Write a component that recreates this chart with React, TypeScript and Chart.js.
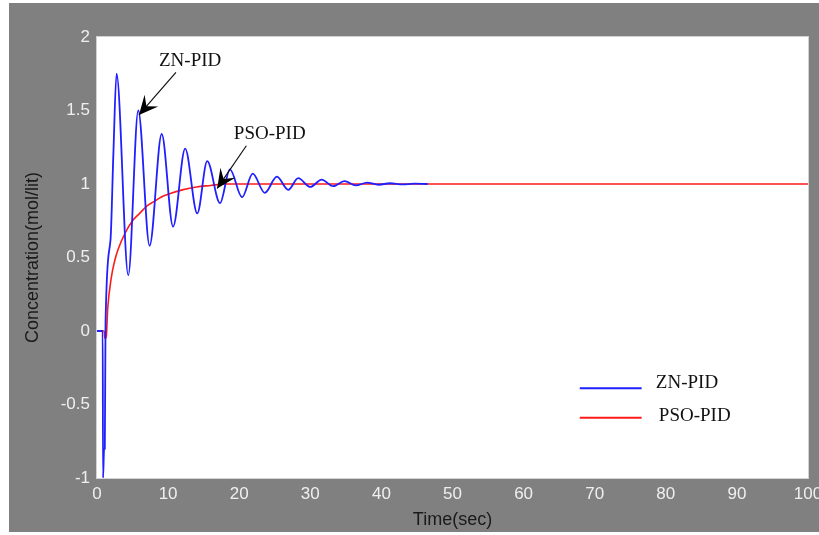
import React, { useEffect, useRef } from "react";
import { Chart, registerables } from "chart.js";

Chart.register(...registerables);

// ---- Data ----
const ZN_T = [0, 0.8, 0.85, 1.0, 1.1, 1.2, 1.9, 2.3, 2.75, 4.4, 5.8, 7.4, 9.1, 10.7, 12.4, 14.1, 15.5, 17.3, 18.7, 20.4, 21.9, 23.6, 25.3, 26.9, 28.3, 30.0, 31.6, 33.2, 34.8, 36.4, 38.0, 39.6, 41.2, 43.0, 44.6, 46.5];
const ZN_V = [0, 0, -1.0, -0.8, -0.8, 0.05, 0.62, 1.2, 1.75, 0.38, 1.5, 0.58, 1.34, 0.71, 1.24, 0.8, 1.155, 0.87, 1.1, 0.91, 1.07, 0.94, 1.05, 0.96, 1.04, 0.98, 1.03, 0.985, 1.02, 0.99, 1.01, 0.995, 1.005, 0.997, 1.002, 1.0];

const PSO_T = [0, 1.0, 1.1, 1.3, 1.5, 2.0, 2.5, 3.0, 4.0, 5.0, 6.0, 7.0, 8.0, 9.0, 10.0, 12.0, 14.0, 16.0, 18.0, 25.0, 100.0];
const PSO_V = [0, 0, -0.05, -0.04, 0.15, 0.36, 0.48, 0.56, 0.67, 0.75, 0.8, 0.85, 0.88, 0.91, 0.93, 0.96, 0.98, 0.99, 1.0, 1.0, 1.0];

const SERIES_LABELS = ["ZN-PID", "PSO-PID"];
const SERIES_COLORS = ["#1f1fff", "#ff1a1a"];

const X_TICKS = [0, 10, 20, 30, 40, 50, 60, 70, 80, 90, 100];
const Y_TICKS = [-1, -0.5, 0, 0.5, 1, 1.5, 2];
const X_TITLE = "Time(sec)";
const Y_TITLE = "Concentration(mol/lit)";

// annotations in data units
const ANNOT_LABELS = ["ZN-PID", "PSO-PID"];
const ANNOT_TEXT_X = [13.1, 24.3];
const ANNOT_TEXT_Y = [1.84, 1.34];
const ANNOT_FROM_X = [11.1, 21.0];
const ANNOT_FROM_Y = [1.76, 1.26];
const ANNOT_TIP_X = [5.9, 16.9];
const ANNOT_TIP_Y = [1.47, 0.97];

// legend placement in data units
const LEGEND_LINE_X = [67.9, 76.6];
const LEGEND_TEXT_X = 78.6;
const LEGEND_ROW_Y = [-0.39, -0.59];

const pts = (t: number[], v: number[]) => t.map((x, i) => ({ x, y: v[i] }));

const plotDecor = {
  id: "plotDecor",
  beforeDraw(chart: any) {
    const { ctx, chartArea: a } = chart;
    ctx.save();
    ctx.fillStyle = "#ffffff";
    ctx.fillRect(a.left, a.top, a.right - a.left, a.bottom - a.top);
    ctx.restore();
  },
  afterDraw(chart: any) {
    const { ctx, chartArea: a, scales } = chart;
    const xs = scales.x;
    const ys = scales.y;
    ctx.save();
    ctx.strokeStyle = "#d2d2d2";
    ctx.lineWidth = 1;
    ctx.strokeRect(a.left - 0.5, a.top - 0.5, a.right - a.left + 1, a.bottom - a.top + 1);

    // annotations
    ctx.font = "19px 'Liberation Serif', 'Times New Roman', serif";
    ctx.textAlign = "center";
    ctx.textBaseline = "middle";
    for (let i = 0; i < ANNOT_LABELS.length; i++) {
      ctx.fillStyle = "#111111";
      ctx.fillText(ANNOT_LABELS[i], xs.getPixelForValue(ANNOT_TEXT_X[i]), ys.getPixelForValue(ANNOT_TEXT_Y[i]));
      const x0 = xs.getPixelForValue(ANNOT_FROM_X[i]);
      const y0 = ys.getPixelForValue(ANNOT_FROM_Y[i]);
      const x1 = xs.getPixelForValue(ANNOT_TIP_X[i]);
      const y1 = ys.getPixelForValue(ANNOT_TIP_Y[i]);
      const ang = Math.atan2(y1 - y0, x1 - x0);
      ctx.strokeStyle = "#111111";
      ctx.lineWidth = 1.2;
      ctx.beginPath();
      ctx.moveTo(x0, y0);
      ctx.lineTo(x1, y1);
      ctx.stroke();
      const L = 19;
      const W = 9;
      const bx = x1 - Math.cos(ang) * L;
      const by = y1 - Math.sin(ang) * L;
      const nx = -Math.sin(ang);
      const ny = Math.cos(ang);
      const mx = x1 - Math.cos(ang) * L * 0.6;
      const my = y1 - Math.sin(ang) * L * 0.6;
      ctx.fillStyle = "#000000";
      ctx.beginPath();
      ctx.moveTo(x1, y1);
      ctx.lineTo(bx + nx * W, by + ny * W);
      ctx.lineTo(mx, my);
      ctx.lineTo(bx - nx * W, by - ny * W);
      ctx.closePath();
      ctx.fill();
    }

    // legend
    chart.data.datasets.forEach((ds: any, i: number) => {
      const yy = ys.getPixelForValue(LEGEND_ROW_Y[i]);
      ctx.strokeStyle = ds.borderColor;
      ctx.lineWidth = 2;
      ctx.beginPath();
      ctx.moveTo(xs.getPixelForValue(LEGEND_LINE_X[0]), yy);
      ctx.lineTo(xs.getPixelForValue(LEGEND_LINE_X[1]), yy);
      ctx.stroke();
      ctx.fillStyle = "#111111";
      ctx.textAlign = "left";
      ctx.fillText(ds.label, xs.getPixelForValue(LEGEND_TEXT_X) + (i === 1 ? 3 : 0), yy - (i === 0 ? 5 : 2));
    });
    ctx.restore();
  },
};

export default function App() {
  const ref = useRef<HTMLCanvasElement | null>(null);
  useEffect(() => {
    if (!ref.current) return;
    const chart = new Chart(ref.current, {
      type: "line",
      data: {
        datasets: [
          {
            label: SERIES_LABELS[0],
            data: pts(ZN_T, ZN_V),
            borderColor: SERIES_COLORS[0],
            borderWidth: 1.8,
            pointRadius: 0,
            cubicInterpolationMode: "monotone",
            fill: false,
          },
          {
            label: SERIES_LABELS[1],
            data: pts(PSO_T, PSO_V),
            borderColor: SERIES_COLORS[1],
            borderWidth: 1.6,
            pointRadius: 0,
            cubicInterpolationMode: "monotone",
            fill: false,
          },
        ],
      },
      options: {
        animation: false,
        responsive: false,
        devicePixelRatio: 1,
        layout: { padding: { top: 34, right: 11, left: 0, bottom: 0 } },
        plugins: { legend: { display: false }, tooltip: { enabled: false } },
        scales: {
          x: {
            type: "linear",
            min: 0,
            max: 100,
            afterBuildTicks: (s: any) => {
              s.ticks = X_TICKS.map((v) => ({ value: v }));
            },
            afterFit: (s: any) => {
              s.height = 54;
              s.paddingLeft = 0;
              s.paddingRight = 0;
            },
            ticks: {
              color: "#efefef",
              font: { family: "'Liberation Sans', Arial, sans-serif", size: 17 },
              padding: 6,
              maxRotation: 0,
              autoSkip: false,
              callback: (v: any) => String(v),
            },
            grid: { display: false, drawTicks: false },
            border: { display: false },
            title: {
              display: true,
              text: X_TITLE,
              color: "#1a1a1a",
              font: { family: "'Liberation Sans', Arial, sans-serif", size: 18 },
              padding: { top: 0, bottom: 1 },
            },
          },
          y: {
            type: "linear",
            min: -1,
            max: 2,
            afterBuildTicks: (s: any) => {
              s.ticks = Y_TICKS.map((v) => ({ value: v }));
            },
            afterFit: (s: any) => {
              s.width = 88;
            },
            ticks: {
              color: "#efefef",
              font: { family: "'Liberation Sans', Arial, sans-serif", size: 17 },
              padding: 7,
              autoSkip: false,
              callback: (v: any) => String(v),
            },
            grid: { display: false, drawTicks: false },
            border: { display: false },
            title: {
              display: true,
              text: Y_TITLE,
              color: "#1a1a1a",
              font: { family: "'Liberation Sans', Arial, sans-serif", size: 18 },
              padding: { top: 13, bottom: 0 },
            },
          },
        },
      },
      plugins: [plotDecor],
    } as any);
    return () => chart.destroy();
  }, []);

  return (
    <div
      style={{
        position: "absolute",
        left: 9,
        top: 3,
        width: 810,
        height: 529,
        background: "#808080",
      }}
    >
      <canvas ref={ref} width={810} height={529} style={{ display: "block" }} />
    </div>
  );
}
